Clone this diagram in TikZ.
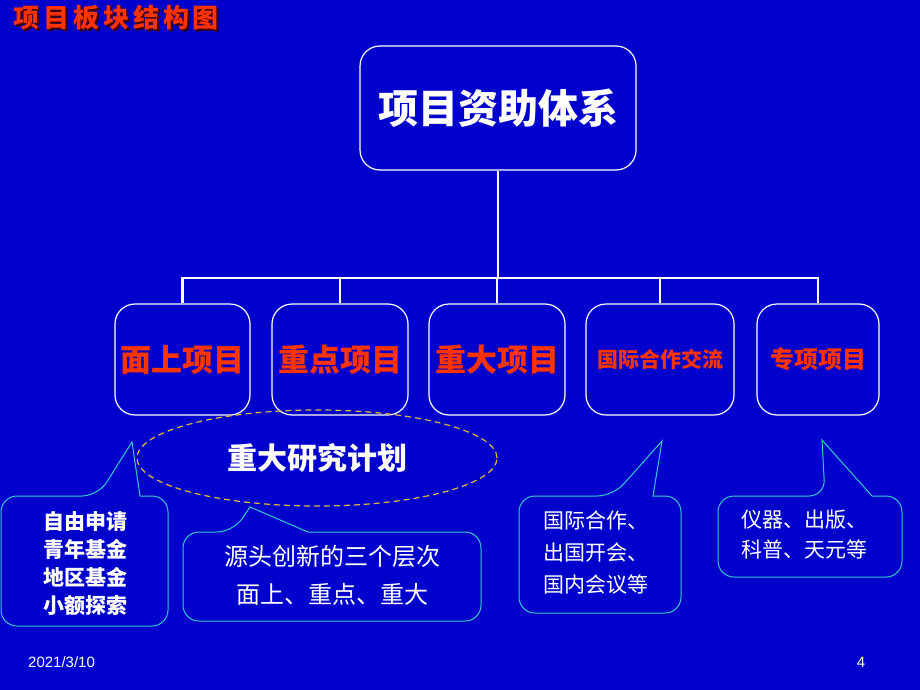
\documentclass[tikz,border=0pt]{standalone}
\usepackage{fontspec}
\setmainfont{Noto Sans CJK SC}
\newfontfamily\arialfont{Liberation Sans}
\usetikzlibrary{shapes.geometric}
\definecolor{slidebg}{RGB}{0,0,204}
\definecolor{itemred}{RGB}{255,51,0}
\definecolor{calloutline}{RGB}{51,204,204}
\definecolor{plandash}{RGB}{230,180,60}
\newcommand{\fs}[2]{\fontsize{#1}{#2}\selectfont}
\begin{document}
\begin{tikzpicture}[x=1pt,y=-1pt]
  \tikzstyle{topbox}=[draw=white,line width=1.2pt,rounded corners=20pt,inner sep=0pt,
                      minimum width=276pt,minimum height=124pt,text=white,font=\fs{40}{40}\bfseries]
  \tikzstyle{item}=[draw=white,line width=1.2pt,rounded corners=20pt,inner sep=0pt,
                    minimum height=111pt,text=itemred,font=\fs{31}{31}\bfseries]
  \tikzstyle{link}=[white,line width=2.5pt]
  \tikzstyle{callout}=[draw=calloutline,line width=1pt,rounded corners=16pt]
  \tikzstyle{note}=[text=white,inner sep=0pt]
  % background
  \fill[slidebg] (0,0) rectangle (920,690);
  \useasboundingbox (0,0) rectangle (920,690);
  % title, with its dark shadow
  \node[anchor=west,text=itemred,font=\fs{26}{26}\bfseries\addfontfeature{LetterSpace=15}] (title) at (10,19)
    {\rlap{\kern2pt\raisebox{-2pt}{\color{black!75!red}项目板块结构图}}项目板块结构图};
  % tree
  \node[topbox] (top) at (498,108) {项目资助体系};
  \node[item,minimum width=135pt] (mian) at (182.5,359.5) {面上项目};
  \node[item,minimum width=136pt] (zhongdian) at (340,359.5) {重点项目};
  \node[item,minimum width=136pt] (zhongda) at (497,359.5) {重大项目};
  \node[item,minimum width=148pt,font=\fs{21}{21}\bfseries] (guoji) at (660,359.5) {国际合作交流};
  \node[item,minimum width=122pt,font=\fs{24}{24}\bfseries] (zhuanxiang) at (818,359.5) {专项项目};
  \coordinate (hub) at (498,278);
  \draw[link] (top.south) -- (hub);
  \foreach \b in {mian,zhongdian,zhongda,guoji,zhuanxiang}
    \draw[link] (hub) -| (\b.north);
  % plan
  \node[ellipse,draw=plandash,dash pattern=on 6pt off 4pt,line width=1.2pt,minimum width=360pt,
        minimum height=96pt,text=white,font=\fs{30}{30}\bfseries] (plan) at (317,458) {重大研究计划};
  % callouts
  \draw[callout] (84,626) -| (1,496) -- (98,496) [sharp corners] -- (132,442) -- (140,496)
    [rounded corners=16pt] -| (168,626) -- cycle;
  \node[note,align=center,font=\fs{21}{28}\bfseries] (mianlist) at (85,564)
    {自由申请\\青年基金\\地区基金\\小额探索};
  \draw[callout] (332,621) -| (183,532) -- (233,532) [sharp corners] -- (250,507) -- (308,532)
    [rounded corners=16pt] -| (481,621) -- cycle;
  \node[note,align=center,font=\fs{24}{38}] (levels) at (332,575)
    {源头创新的三个层次\\面上、重点、重大};
  \draw[callout] (600,613) -| (519,496) -- (613,496) [sharp corners] -- (662,441) -- (653,496)
    [rounded corners=16pt] -| (681,613) -- cycle;
  \node[note,align=left,anchor=west,font=\fs{21}{32}] (guojilist) at (543,553)
    {国际合作、\\出国开会、\\国内会议等};
  \draw[callout] (810,577) -| (718,496) -- (825,496) [sharp corners] -- (822,440) -- (872,496)
    [rounded corners=16pt] -| (902,577) -- cycle;
  \node[note,align=left,anchor=west,font=\fs{21}{30}] (zhuanlist) at (741,534)
    {仪器、出版、\\科普、天元等};
  % footer
  \node[note,anchor=west,font=\arialfont\fs{15}{15}] (date) at (28,662) {2021/3/10};
  \node[note,font=\arialfont\fs{15}{15}] (page) at (861,662) {4};
\end{tikzpicture}
\end{document}
